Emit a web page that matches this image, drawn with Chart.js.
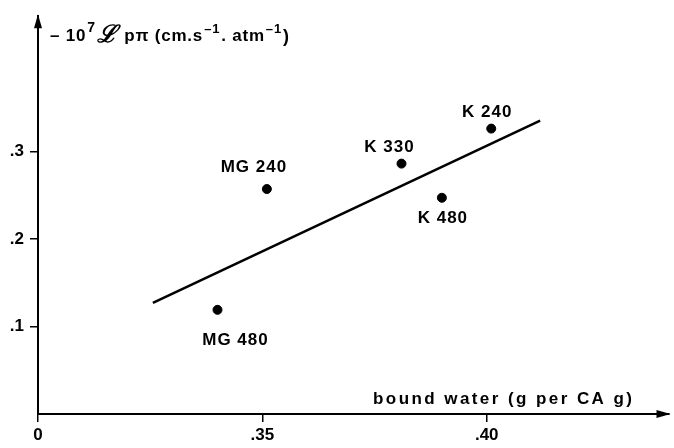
<!DOCTYPE html>
<html>
<head>
<meta charset="utf-8">
<script src="https://cdn.jsdelivr.net/npm/chart.js@4/dist/chart.umd.min.js"></script>
<style>
  html, body { margin: 0; padding: 0; background: #fff; }
  #wrap { width: 674px; height: 448px; }
</style>
</head>
<body>
<div id="wrap"><canvas id="chart" width="674" height="448"></canvas></div>
<script>
// data
const sampleNames = ["MG 480", "MG 240", "K 330", "K 480", "K 240"];
const boundWater = [0.340, 0.351, 0.381, 0.390, 0.401];
const lpPi = [0.119, 0.257, 0.286, 0.247, 0.326];

// fitted line, two ends
const fitX = [0.3256, 0.4119];
const fitY = [0.127, 0.335];

// axis ticks (x axis is broken: origin drawn as "0")
const xTickValues = [0.30, 0.35, 0.40];
const xTickLabels = ["0", ".35", ".40"];
const yTickValues = [0.1, 0.2, 0.3];
const yTickLabels = [".1", ".2", ".3"];

const xTitle = "bound water (g per CA g)";

// where each point name sits relative to its dot (px)
const labelOffsets = [[18, 30], [-13, -22], [-12, -16], [1, 21], [-4, -16]];

const FONT = "'Liberation Sans', Arial, sans-serif";

const points = boundWater.map((x, i) => ({ x: x, y: lpPi[i] }));
const fitLine = fitX.map((x, i) => ({ x: x, y: fitY[i] }));

const decorations = {
  id: "decorations",
  afterDraw(chart) {
    const ctx = chart.ctx;
    const xs = chart.scales.x, ys = chart.scales.y;
    const area = chart.chartArea;
    ctx.save();
    ctx.fillStyle = "#000";

    // arrow heads
    ctx.beginPath();
    ctx.moveTo(area.left, area.top - 2);
    ctx.lineTo(area.left - 4, area.top + 12);
    ctx.lineTo(area.left + 4, area.top + 12);
    ctx.closePath();
    ctx.fill();
    ctx.beginPath();
    ctx.moveTo(area.right + 2, area.bottom);
    ctx.lineTo(area.right - 12, area.bottom - 4);
    ctx.lineTo(area.right - 12, area.bottom + 4);
    ctx.closePath();
    ctx.fill();

    // point names
    ctx.font = "bold 17px " + FONT;
    ctx.letterSpacing = "1px";
    ctx.textAlign = "center";
    ctx.textBaseline = "middle";
    sampleNames.forEach((name, i) => {
      const px = xs.getPixelForValue(boundWater[i]) + labelOffsets[i][0];
      const py = ys.getPixelForValue(lpPi[i]) + labelOffsets[i][1];
      ctx.fillText(name, px, py);
    });

    // x axis title, spread over its width
    ctx.textAlign = "left";
    ctx.font = "bold 17px " + FONT;
    ctx.letterSpacing = "0px";
    const w0 = ctx.measureText(xTitle).width;
    const sp = (259 - w0) / (xTitle.length - 1);
    ctx.letterSpacing = sp.toFixed(2) + "px";
    ctx.fillText(xTitle, 373, area.bottom - 15);

    // y axis title with superscripts
    ctx.letterSpacing = "0.8px";
    ctx.textBaseline = "alphabetic";
    const base = 41;
    const parts = [
      ["– 10", "bold 17px " + FONT, 0],
      ["7", "bold 14px " + FONT, -9],
      ["ℒ", "bold italic 24px 'DejaVu Serif', serif", 1],
      [" pπ (cm.s", "bold 17px " + FONT, 0],
      ["–1", "bold 13px " + FONT, -8],
      [". atm", "bold 17px " + FONT, 0],
      ["–1", "bold 13px " + FONT, -8],
      [")", "bold 18px " + FONT, 1]
    ];
    let cx = 50;
    parts.forEach(p => {
      ctx.font = p[1];
      ctx.fillText(p[0], cx, base + p[2]);
      cx += ctx.measureText(p[0]).width + 1;
    });
    ctx.restore();
  }
};

new Chart(document.getElementById("chart"), {
  type: "scatter",
  data: {
    datasets: [
      {
        data: points,
        backgroundColor: "#000",
        borderColor: "#000",
        pointRadius: 4.5,
        pointHoverRadius: 4.5
      },
      {
        type: "line",
        data: fitLine,
        borderColor: "#000",
        borderWidth: 2.5,
        pointRadius: 0,
        fill: false
      }
    ]
  },
  options: {
    responsive: false,
    animation: false,
    events: [],
    layout: { padding: { left: 0, top: 6, right: 2, bottom: 0 } },
    plugins: { legend: { display: false }, tooltip: { enabled: false } },
    scales: {
      x: {
        type: "linear",
        min: 0.30,
        max: 0.4405,
        afterFit(scale) { scale.height = 34; },
        afterBuildTicks(scale) { scale.ticks = xTickValues.map(v => ({ value: v })); },
        border: { display: true, color: "#000", width: 2 },
        grid: { drawOnChartArea: false, drawTicks: true, tickLength: 8, color: "#000", lineWidth: 1.5 },
        ticks: {
          color: "#000",
          padding: 3,
          maxRotation: 0,
          autoSkip: false,
          font: { family: FONT, size: 17, weight: "bold" },
          callback: v => xTickLabels[xTickValues.findIndex(t => Math.abs(t - v) < 1e-6)]
        }
      },
      y: {
        type: "linear",
        min: 0,
        max: 0.4544,
        afterFit(scale) { scale.width = 38; },
        afterBuildTicks(scale) { scale.ticks = yTickValues.map(v => ({ value: v })); },
        border: { display: true, color: "#000", width: 2 },
        grid: { drawOnChartArea: false, drawTicks: true, tickLength: 8, color: "#000", lineWidth: 1.5 },
        ticks: {
          color: "#000",
          padding: 6,
          autoSkip: false,
          font: { family: FONT, size: 17, weight: "bold" },
          callback: v => yTickLabels[yTickValues.findIndex(t => Math.abs(t - v) < 1e-6)]
        }
      }
    }
  },
  plugins: [decorations]
});
</script>
</body>
</html>
